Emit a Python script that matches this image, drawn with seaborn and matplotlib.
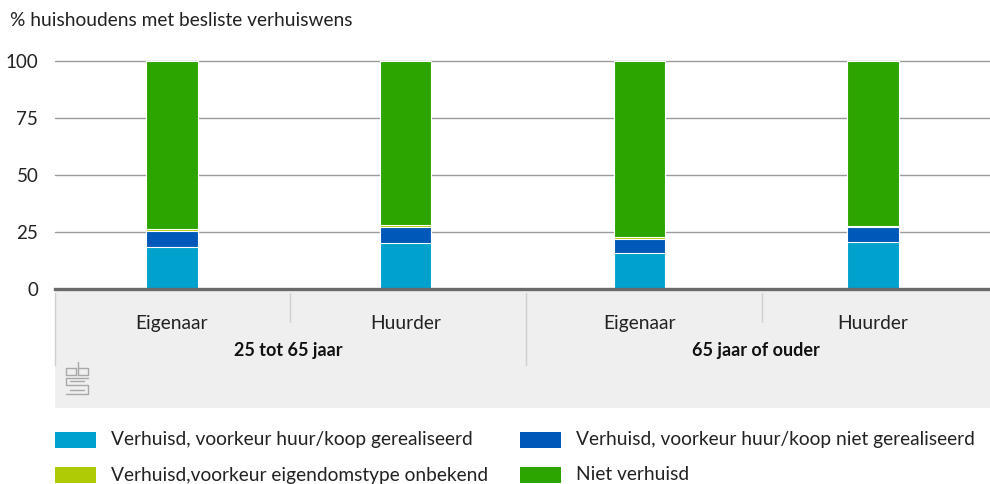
import matplotlib
matplotlib.use("Agg")
import matplotlib.pyplot as plt
import seaborn as sns
import pandas as pd
import numpy as np
from matplotlib.patches import Rectangle
from matplotlib.lines import Line2D

groups = ["25 tot 65 jaar", "25 tot 65 jaar", "65 jaar of ouder", "65 jaar of ouder"]
owner = ["Eigenaar", "Huurder", "Eigenaar", "Huurder"]
series = ["Verhuisd, voorkeur huur/koop gerealiseerd",
          "Verhuisd, voorkeur huur/koop niet gerealiseerd",
          "Verhuisd,voorkeur eigendomstype onbekend",
          "Niet verhuisd"]
gerealiseerd = [18.6, 20.2, 15.8, 20.6]
niet_gerealiseerd = [6.7, 6.8, 6.0, 6.4]
onbekend = [0.9, 1.1, 0.9, 0.5]
niet_verhuisd = [73.8, 71.9, 77.3, 72.5]
colors = ["#00a1cd", "#0058b8", "#afcb05", "#2ca500"]

sns.set_style("white")
plt.rcParams['font.family'] = ['Lato', 'DejaVu Sans']

keys = [f"{g}|{o}" for g, o in zip(groups, owner)]
vals = [gerealiseerd, niet_gerealiseerd, onbekend, niet_verhuisd]
cum = np.cumsum(np.array(vals), axis=0)

fig = plt.figure(figsize=(9.9, 4.84), dpi=100)
W, H = 990, 484
ax = fig.add_axes([55 / W, 1 - 289 / H, (990 - 55) / W, (289 - 61) / H])
ax.patch.set_alpha(0)

# gray band under axis
fig.patches.append(Rectangle((55 / W, 1 - 408 / H), (990 - 55) / W, (408 - 291) / H,
                             transform=fig.transFigure, facecolor="#efefef",
                             edgecolor="none", zorder=-5))

for i in range(3, -1, -1):
    df = pd.DataFrame({"key": keys, "val": cum[i]})
    sns.barplot(data=df, x="key", y="val", color=colors[i], width=0.22,
                edgecolor="white", linewidth=0.8, ax=ax, order=keys, zorder=3,
                saturation=1)

ax.set_ylim(0, 100)
ax.set_xlim(-0.5, 3.5)
ax.set_yticks([0, 25, 50, 75, 100])
ax.set_yticklabels(["0", "25", "50", "75", "100"], fontsize=13.5, color="#222222")
ax.tick_params(axis="y", length=0, pad=12)
ax.tick_params(axis="x", length=0)
ax.set_xticklabels([])
ax.set_xlabel("")
ax.set_ylabel("")
for y in [25, 50, 75, 100]:
    ax.axhline(y, color="#9a9a9a", linewidth=1.0, zorder=1, clip_on=False)
for s in ["left", "right", "top"]:
    ax.spines[s].set_visible(False)
ax.spines["bottom"].set_color("#6a6a6a")
ax.spines["bottom"].set_linewidth(2.4)
ax.spines["bottom"].set_zorder(5)

# category labels
for i, o in enumerate(owner):
    ax.text(i, -15, o, ha="center", va="center", fontsize=13.8, color="#222222",
            transform=ax.transData, clip_on=False)
for gi, g in enumerate(["25 tot 65 jaar", "65 jaar of ouder"]):
    ax.text(gi * 2 + 0.5, -27, g, ha="center", va="center", fontsize=13,
            fontweight="bold", color="#111111", clip_on=False)

# separators
def vline(x, y0, y1):
    fig.add_artist(Line2D([x / W, x / W], [1 - y0 / H, 1 - y1 / H],
                          transform=fig.transFigure, color="#cfcfcf", linewidth=1.0))
vline(290, 293, 322)
vline(762, 293, 322)
vline(526, 293, 365)
vline(55, 293, 365)

# cbs logo (simple)
lc = "#a8a8a8"
def fl(xs, ys):
    fig.add_artist(Line2D([x / W for x in xs], [1 - y / H for y in ys],
                          transform=fig.transFigure, color=lc, linewidth=1.0))
fl([66, 66, 76, 76], [368, 375, 375, 368])
fl([66, 76], [368, 368])
fl([78, 78, 88, 88, 78], [362, 375, 375, 368, 368])
fl([88, 66, 66, 88, 88, 66], [378, 378, 385, 385, 394, 394])
fl([70, 84], [381, 381])
fl([70, 84], [390, 390])

fig.text(10 / W, 1 - 20 / H, "% huishoudens met besliste verhuiswens", ha="left",
         va="center", fontsize=13.8, color="#222222")

# legend
leg_pos = [(55, 440), (520, 440), (55, 475), (520, 475)]
for (lx, ly), lab, c in zip(leg_pos, series, colors):
    fig.patches.append(Rectangle((lx / W, 1 - (ly + 8) / H), 41 / W, 16 / H,
                                 transform=fig.transFigure, facecolor=c,
                                 edgecolor="none"))
    fig.text((lx + 56) / W, 1 - ly / H, lab, ha="left", va="center",
             fontsize=13.8, color="#222222")

fig.savefig("out.png", dpi=100)
